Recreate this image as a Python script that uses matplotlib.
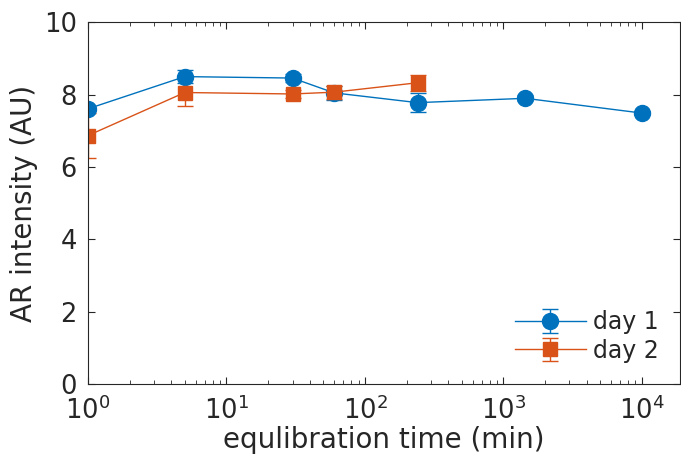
import numpy as np
import matplotlib.pyplot as plt

# equilibration times (min) and AR intensities
t1 = [1, 5, 30, 60, 240, 1440, 10080]
ar1 = [7.61, 8.50, 8.46, 8.05, 7.78, 7.90, 7.49]
err1 = [0.05, 0.17, 0.10, 0.20, 0.26, 0.08, 0.06]

t2 = [1, 5, 30, 60, 240]
ar2 = [6.87, 8.06, 8.02, 8.07, 8.33]
err2 = [0.62, 0.37, 0.12, 0.18, 0.22]

blue = '#0072BD'
orange = '#D95319'
txt = '#262626'

plt.rcParams['font.family'] = 'DejaVu Sans'
fig = plt.figure(figsize=(6.81, 4.66), dpi=100)
ax = fig.add_axes([0.1292, 0.176, 0.869, 0.776])

ax.errorbar(t1, ar1, yerr=err1, color=blue, marker='o', markersize=11.5,
            linewidth=1, capsize=5.5, elinewidth=1, label='day 1')
ax.errorbar(t2, ar2, yerr=err2, color=orange, marker='s', markersize=9.5,
            linewidth=1, capsize=5.5, elinewidth=1, label='day 2')

ax.set_xscale('log')
ax.set_xlim(1, 10 ** 4.274)
ax.set_ylim(0, 10)
ax.set_yticks([0, 2, 4, 6, 8, 10])
ax.set_xticks([1, 10, 100, 1000, 10000])

ax.tick_params(which='both', direction='in', top=True, right=True,
               colors=txt, labelsize=18.5)
ax.tick_params(axis='x', which='major', pad=9)
ax.tick_params(axis='y', which='major', pad=8)
ax.tick_params(which='major', length=5)
ax.tick_params(which='minor', length=3)
for s in ax.spines.values():
    s.set_color(txt)
    s.set_linewidth(0.8)

ax.set_xlabel('equlibration time (min)', fontsize=20, color=txt, labelpad=1)
ax.set_ylabel('AR intensity (AU)', fontsize=20, color=txt, labelpad=4)

leg = ax.legend(loc='lower right', frameon=False, fontsize=17,
                handlelength=3.0, borderaxespad=0.5, handletextpad=0.3,
                labelspacing=0.2)
for t in leg.get_texts():
    t.set_color(txt)

fig.savefig('out.png', dpi=100)
